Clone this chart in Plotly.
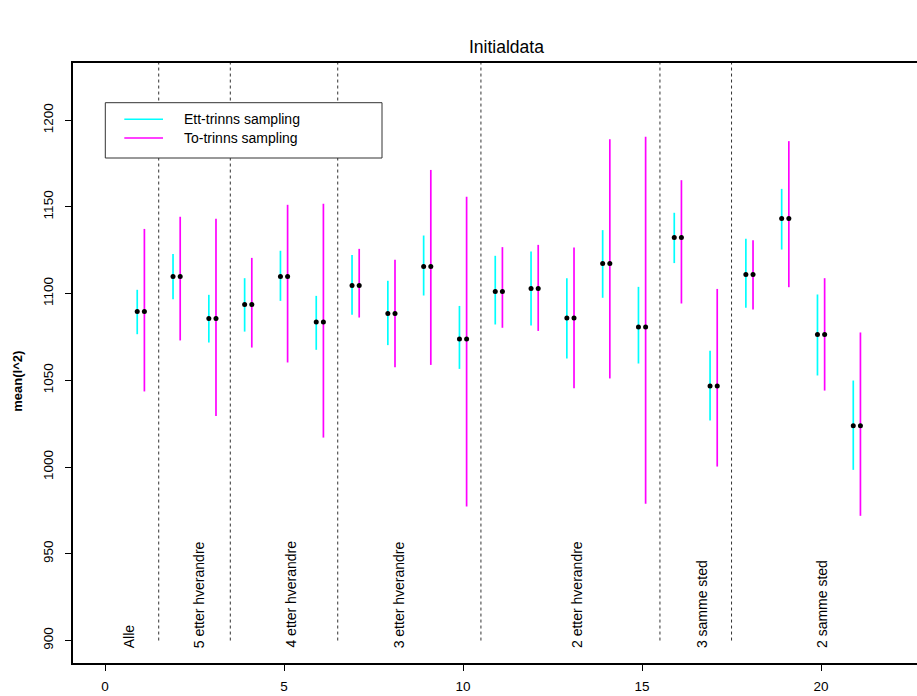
import plotly.graph_objects as go

# ---- data ----
idx = list(range(1, 22))
mean_vals = [1089.7, 1109.8, 1085.6, 1093.7, 1109.8, 1083.7, 1104.7, 1088.5, 1115.6, 1073.9,
             1101.2, 1102.9, 1086.0, 1117.3, 1080.8, 1132.3, 1046.8, 1111.0, 1143.3, 1076.4, 1023.8]
ett_lo = [1076.6, 1096.8, 1071.8, 1078.1, 1095.8, 1067.6, 1087.8, 1070.3, 1098.9, 1056.6,
          1082.2, 1081.6, 1062.6, 1097.6, 1059.7, 1117.6, 1026.8, 1091.8, 1125.4, 1052.8, 998.4]
ett_hi = [1102.2, 1122.9, 1099.3, 1108.9, 1124.7, 1098.7, 1122.3, 1107.4, 1133.5, 1092.9,
          1121.8, 1124.3, 1108.9, 1136.6, 1103.9, 1146.6, 1067.0, 1131.6, 1160.4, 1099.5, 1049.9]
to_lo = [1043.6, 1073.0, 1029.5, 1068.9, 1060.3, 1017.0, 1086.2, 1057.6, 1058.9, 977.3,
         1080.3, 1078.5, 1045.5, 1051.1, 978.8, 1094.3, 1000.3, 1090.8, 1103.7, 1044.1, 971.9]
to_hi = [1137.3, 1144.3, 1143.1, 1120.6, 1151.2, 1151.8, 1125.8, 1119.5, 1171.3, 1155.8,
         1126.8, 1128.1, 1126.6, 1189.0, 1190.4, 1165.4, 1102.7, 1130.8, 1187.9, 1108.9, 1077.6]
group_bounds = [1.5, 3.5, 6.5, 10.5, 15.5, 17.5]
group_labels = ["Alle", "5 etter hverandre", "4 etter hverandre", "3 etter hverandre",
                "2 etter hverandre", "3 samme sted", "2 samme sted"]
group_label_x = [0.68, 2.65, 5.2, 8.21, 13.2, 16.68, 20.03]
series_names = ["Ett-trinns sampling", "To-trinns sampling"]
x_ticks = [0, 5, 10, 15, 20]
y_ticks = [900, 950, 1000, 1050, 1100, 1150, 1200]

OFF = 0.1
CYAN = "#00FFFF"
MAGENTA = "#FF00FF"
FONT = "Liberation Sans, Arial, sans-serif"
TICKFONT = "Liberation Sans Narrow, Liberation Sans, Arial, sans-serif"

W, H = 917, 696
L, R, T, B = 73, 0, 63, 33
PW, PH = W - L - R, H - T - B


def px(x, y):
    return (x - L) / PW, 1 - (y - T) / PH


def seg_xy(xs, lo, hi):
    X, Y = [], []
    for x, a, b in zip(xs, lo, hi):
        X += [x, x, None]
        Y += [a, b, None]
    return X, Y


fig = go.Figure()

xc = [i - OFF for i in idx]
xm = [i + OFF for i in idx]
X, Y = seg_xy(xc, ett_lo, ett_hi)
fig.add_trace(go.Scatter(x=X, y=Y, mode="lines", line=dict(color=CYAN, width=1.7),
                         name=series_names[0], showlegend=False, hoverinfo="skip"))
X, Y = seg_xy(xm, to_lo, to_hi)
fig.add_trace(go.Scatter(x=X, y=Y, mode="lines", line=dict(color=MAGENTA, width=1.7),
                         name=series_names[1], showlegend=False, hoverinfo="skip"))
fig.add_trace(go.Scatter(x=xc + xm, y=mean_vals + mean_vals, mode="markers",
                         marker=dict(color="black", size=5), showlegend=False))

shapes = []
for gb in group_bounds:
    shapes.append(dict(type="line", xref="x", yref="y", x0=gb, x1=gb, y0=900, y1=1240,
                       line=dict(color="#333333", width=1, dash="dot"), layer="below"))

# legend box
x0, y0 = px(105.3, 102.7)
x1, y1 = px(382, 158)
shapes.append(dict(type="rect", xref="paper", yref="paper", x0=x0, x1=x1, y0=y1, y1=y0,
                   line=dict(color="#333333", width=1), fillcolor="white"))
for yy, col in [(119.3, CYAN), (138.0, MAGENTA)]:
    a, b = px(124.3, yy)
    c, _ = px(163, yy)
    shapes.append(dict(type="line", xref="paper", yref="paper", x0=a, x1=c, y0=b, y1=b,
                       line=dict(color=col, width=1.5)))

annotations = []
for yy, name in [(119.3, series_names[0]), (138.0, series_names[1])]:
    a, b = px(181.7, yy)
    annotations.append(dict(xref="paper", yref="paper", x=a, y=b, text=name, showarrow=False,
                            xanchor="left", yanchor="middle",
                            font=dict(family=FONT, size=14, color="black")))

for lab, gx in zip(group_labels, group_label_x):
    annotations.append(dict(xref="x", yref="y", x=gx, y=894.6, text=lab, showarrow=False,
                            textangle=-90, xanchor="center", yanchor="bottom",
                            font=dict(family=FONT, size=14, color="black")))

# title
a, b = px(506, 47)
annotations.append(dict(xref="paper", yref="paper", x=a, y=b, text="Initialdata", showarrow=False,
                        xanchor="center", yanchor="middle",
                        font=dict(family=FONT, size=17.5, color="black")))
# y axis title
a, b = px(16.7, 381)
annotations.append(dict(xref="paper", yref="paper", x=a, y=b, text="<b>mean(l^2)</b>",
                        showarrow=False, textangle=-90, xanchor="center", yanchor="middle",
                        font=dict(family=FONT, size=13, color="black")))

fig.update_layout(
    width=W, height=H,
    margin=dict(l=L, r=R, t=T, b=B, pad=0, autoexpand=False),
    paper_bgcolor="white", plot_bgcolor="white",
    shapes=shapes, annotations=annotations,
    showlegend=False,
    xaxis=dict(range=[-0.894, 22.68], tickvals=x_ticks, ticktext=[str(v) for v in x_ticks],
               showgrid=False, zeroline=False, showline=True, linecolor="black", linewidth=1.5,
               mirror=True, ticks="outside", ticklen=6, tickcolor="black", tickwidth=1,
               automargin=False,
               tickfont=dict(family=TICKFONT, size=13.5, color="black"), ticklabelstandoff=4),
    yaxis=dict(range=[887.05, 1232.95], tickvals=y_ticks, ticktext=[str(v) for v in y_ticks],
               showgrid=False, zeroline=False, showline=True, linecolor="black", linewidth=1.5,
               mirror=False, ticks="outside", ticklen=6, tickcolor="black", tickwidth=1,
               tickangle=-90, automargin=False,
               tickfont=dict(family=TICKFONT, size=13.5, color="black"), ticklabelstandoff=7),
)

fig.write_html("out.html", config={"displayModeBar": False},
               post_script="document.body.style.margin='0';document.body.style.padding='0';")
